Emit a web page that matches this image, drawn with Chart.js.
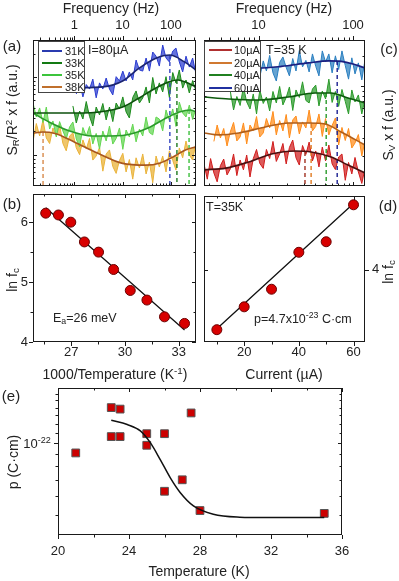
<!DOCTYPE html>
<html>
<head>
<meta charset="utf-8">
<script src="https://cdn.jsdelivr.net/npm/chart.js"></script>
<style>
  body { margin: 0; width: 399px; height: 581px; position: relative; overflow: hidden; background: #fff;
         font-family: "Liberation Sans", Arial, sans-serif; color: #222; }
  canvas { position: absolute; }
  .lb { position: absolute; white-space: nowrap; line-height: 1; transform: translate(-50%, -50%); font-size: 14px; }
  .rot { transform: translate(-50%, -50%) rotate(-90deg); }
  .ann { position: absolute; white-space: nowrap; line-height: 1; transform: translateY(-50%); font-size: 12.5px; }
  .pl { font-size: 15px; }
  sub, sup { font-size: 70%; line-height: 0; }
  sub { vertical-align: -0.25em; }
  sup { vertical-align: 0.55em; }
  .legend { position: absolute; background: #fff; border: 1px solid #444; box-sizing: border-box; }
  .legend .row { position: absolute; left: 0; height: 0; }
  .legend i { position: absolute; height: 2px; top: -1px; }
  .legend span { position: absolute; top: 0; transform: translateY(-50%); font-size: 11px; line-height: 1; white-space: nowrap; }
</style>
</head>
<body>
<canvas id="pa"></canvas>
<canvas id="pb"></canvas>
<canvas id="pc"></canvas>
<canvas id="pd"></canvas>
<canvas id="pe"></canvas>

<div class="lb" style="left:111px;top:8px">Frequency (Hz)</div>
<div class="lb" style="left:284px;top:8px">Frequency (Hz)</div>
<div class="lb pl" style="left:12px;top:45px">(a)</div>
<div class="lb pl" style="left:12px;top:203px">(b)</div>
<div class="lb pl" style="left:389px;top:48px">(c)</div>
<div class="lb pl" style="left:388px;top:205px">(d)</div>
<div class="lb pl" style="left:11px;top:395px">(e)</div>
<div class="lb rot" style="left:12px;top:110px">S<sub>R</sub>/R<sup>2</sup> x f (a.u.)</div>
<div class="lb rot" style="left:388px;top:125px">S<sub>V</sub> x f (a.u.)</div>
<div class="lb rot" style="left:12px;top:280px">ln f<sub>c</sub></div>
<div class="lb rot" style="left:388px;top:272px">ln f<sub>c</sub></div>
<div class="lb rot" style="left:13px;top:462px">p (C·cm)</div>
<div class="lb" style="left:115px;top:374px">1000/Temperature (K<sup>-1</sup>)</div>
<div class="lb" style="left:284px;top:374px">Current (µA)</div>
<div class="lb" style="left:199px;top:571px">Temperature (K)</div>
<div class="lb" style="left:37px;top:443px;font-size:13px">10<sup>-22</sup></div>
<div class="ann" style="left:88px;top:50px">I=80µA</div>
<div class="ann" style="left:266px;top:50px">T=35 K</div>
<div class="ann" style="left:53px;top:318px">E<sub>a</sub>=26 meV</div>
<div class="ann" style="left:206px;top:207px">T=35K</div>
<div class="ann" style="left:254px;top:319px">p=4.7x10<sup>-23</sup> C·cm</div>

<div class="legend" style="left:38px;top:41px;width:47px;height:52px">
  <div class="row" style="top:9px"><i style="left:3px;width:20px;background:#2a3bb0"></i><span style="left:26px">31K</span></div>
  <div class="row" style="top:21px"><i style="left:3px;width:20px;background:#137a13"></i><span style="left:26px">33K</span></div>
  <div class="row" style="top:33px"><i style="left:3px;width:20px;background:#3cc43c"></i><span style="left:26px">35K</span></div>
  <div class="row" style="top:45px"><i style="left:3px;width:20px;background:#c0702c"></i><span style="left:26px">38K</span></div>
</div>
<div class="legend" style="left:204px;top:41px;width:57px;height:51px">
  <div class="row" style="top:8px"><i style="left:4px;width:23px;background:#b03030"></i><span style="left:29px">10µA</span></div>
  <div class="row" style="top:21px"><i style="left:4px;width:23px;background:#d07830"></i><span style="left:29px">20µA</span></div>
  <div class="row" style="top:33px"><i style="left:4px;width:23px;background:#208020"></i><span style="left:29px">40µA</span></div>
  <div class="row" style="top:46px"><i style="left:4px;width:23px;background:#2030a0"></i><span style="left:29px">60µA</span></div>
</div>

<script>
// ---- panel (a): S_R/R^2 x f vs frequency, I = 80 uA ----
const freqA = [0.140,0.164,0.192,0.225,0.264,0.309,0.362,0.425,0.497,0.582,0.682,0.800,0.937,1.10,1.29,1.51,1.77,2.07,2.42,2.84,
  3.33,3.90,4.57,5.35,6.27,7.35,8.61,10.1,11.8,13.8,16.2,19.0,22.3,26.1,30.6,35.8,42.0,49.2,57.5,67.5,79.1,92.7,109,127,149,175,205,240,281,329];
const noise31 = [60.5,84,55.5,80,70,94,54,84,70,97,70,58.8,101,89,119,89,116,91.5,165,123,119,175,119,209,185,138,257,175,156,215,235,156,116,185,134,175,110];
const noise33 = [42.5,25.7,36.6,28.9,48.5,31.2,23.5,41.2,32.6,45.7,28.1,41.2,26.8,46.4,38.9,55.5,35.6,29.8,54.6,66.2,46.4,53.8,74.5,46.4,98.6,60.5,84,64.3,101,54.6,114,84,123,72,91.5,62.3,90,66.2];
const noise35 = [46.4,30.7,40.1,26.1,41.2,21.5,27.3,17.0,26.8,20.3,16.0,22.9,26.5,16.0,12.7,22.5,17.5,23.2,13.8,18.9,
  11.9,20.3,15.1,23.5,13.8,16.3,22.2,11.8,20.9,17.0,24.9,14.7,21.5,17.5,30.7,19.4,18.1,30.7,28.9,20.3,37.8,27.7,38.9,23.2,47.7,34.5,30.7,43.7,28.5,40.1];
const noise38 = [14.9,25.3,17.5,28.1,16.5,14.0,22.2,17.5,24.2,14.0,11.3,17.5,19.2,12.3,10.1,15.6,11.9,16.3,8.6,9.7,
  12.5,6.2,10.3,11.6,7.1,5.8,8.5,10.5,6.05,8.75,4.9,9.2,6.8,10.3,5.7,8.1,4.4,9.7,7.0,9.7,6.05,11.3,8.5,6.4,12.3,9.2,15.1,10,8.6,14.3];
const start31 = 13, start33 = 12;
const fit31F = [1.1, 3.9, 10, 22, 49, 95, 190, 330];
const fit31 = [72.5, 74.6, 89, 130, 174, 191, 156, 123];
const fit33F = [0.14, 1.1, 3.9, 10, 22, 49, 95, 140, 200, 330];
const fit33 = [34.5, 34.5, 36.1, 41.2, 53.8, 72.3, 87.5, 91.5, 86.3, 74.5];
const fit35F = [0.14, 0.3, 0.8, 2.4, 10, 30, 80, 150, 250, 330];
const fit35 = [34.5, 26.5, 20.3, 17.5, 17.8, 21.5, 29.8, 35.6, 37.8, 35.6];
const fit38F = [0.14, 0.22, 0.4, 1, 3, 10, 30, 60, 120, 200, 330];
const fit38 = [18.9, 19.7, 18.9, 14.7, 10.6, 7.8, 7.4, 7.9, 9.7, 11.6, 12.7];
const cornerA = [0.226, 95, 133, 237];      // 38K, 31K, 33K, 35K
const cornerATop = [19.7, 191, 91.5, 37.8];

// ---- panel (c): S_V x f vs frequency, T = 35 K ----
const freqC = [2.64,2.86,3.10,3.36,3.64,3.94,4.27,4.63,5.01,5.43,5.88,6.37,6.91,7.48,8.11,8.78,9.51,10.3,11.2,12.1,
  13.1,14.2,15.4,16.7,18.1,19.6,21.2,23.0,24.9,27.0,29.2,31.7,34.3,37.2,40.3,43.6,47.3,51.2,55.5,60.1,65.1,70.5,76.4,82.8,89.7,97.2,105,114,124,134];
const noise60 = [12.3,17.8,14.1,20.2,13.5,11.2,17.2,19.5,15.3,12.6,18.8,14.1,22.6,15.5,18.0,13.8,20.9,15.7,12.6,22.4,17.4,20.9,13.5,20.0,14.6,22.4,16.0,11.7,19.1,13.2,17.0,11.5,18.2];
const noise40 = [8.91,5.75,7.85,6.38,9.77,6.92,5.89,8.32,5.25,9.12,6.68,7.76,5.62,8.81,6.76,9.89,6.46,7.67,9.77,5.69,
  9.12,7.67,11.0,7.16,6.76,9.33,10.2,6.31,8.91,7.41,11.7,6.84,8.81,6.24,9.23,7.0,5.25,9.12,6.92,8.13,5.25,7.41];
const noise20 = [2.79,4.07,3.02,3.76,2.51,3.47,4.32,2.82,3.09,4.27,2.63,4.07,3.59,4.95,3.09,3.39,4.73,3.80,5.56,3.24,
  4.52,3.55,5.19,3.02,4.57,5.01,3.31,4.37,3.80,5.75,3.55,3.94,5.25,3.13,4.73,3.24,4.03,4.79,2.57,3.85,2.85,3.76,2.40,2.69,3.27,2.0,2.82];
const noise10 = [1.66,1.17,1.88,1.35,1.10,1.60,1.86,1.29,1.48,2.09,1.27,1.82,1.45,2.04,1.23,1.88,2.32,1.68,1.50,2.32,
  1.88,2.79,1.76,2.09,2.66,1.66,2.43,2.88,1.91,1.62,2.54,2.07,2.75,1.78,2.24,1.55,2.45,1.78,2.57,1.66,1.46,1.95,2.09,1.14,1.72,1.32,1.93,1.38,1.06,1.51];
const start60 = 17, start40 = 8, start20 = 3;
const fit10F = [2.64, 4.5, 7.85, 13.7, 24.5, 36.1, 58.6, 88.5, 134];
const fit10 = [1.45, 1.51, 1.74, 2.09, 2.24, 2.19, 1.95, 1.62, 1.35];
const fit20F = [2.64, 3.79, 6.16, 11.8, 20.7, 33.6, 50.7, 74.8, 134];
const fit20 = [3.39, 3.24, 3.39, 3.89, 4.27, 4.27, 4.17, 3.47, 2.57];
const fit40F = [2.64, 4.83, 10, 20.7, 39.8, 58.6, 88.5, 134];
const fit40 = [7.76, 7.41, 7.24, 7.76, 8.51, 8.51, 7.59, 6.76];
const fit60F = [2.64, 5.2, 10, 17.5, 33.6, 55.9, 74.8, 100, 134];
const fit60 = [17.4, 15.8, 15.1, 15.7, 17.0, 17.8, 17.6, 16.6, 15.1];
const cornerC = [31, 36, 52, 68];           // 10, 20, 40, 60 uA
const cornerCTop = [2.19, 4.17, 8.51, 17.8];

// ---- panel (b): ln fc vs 1000/T ----
const invT = [25.58, 26.29, 26.98, 27.74, 28.53, 29.37, 30.30, 31.23, 32.21, 33.33];
const lnFcT = [6.15, 6.12, 6.00, 5.67, 5.50, 5.21, 4.86, 4.70, 4.42, 4.31];
const fitBX = [25.58, 33.33];
const fitBY = [6.24, 4.20];

// ---- panel (d): ln fc vs current ----
const current = [10, 20, 30, 40, 50, 60];
const lnFcI = [3.66, 3.79, 3.89, 4.10, 4.16, 4.37];
const fitDX = [9.1, 60];
const fitDY = [3.653, 4.377];

// ---- panel (e): dipole p vs temperature ----
const tempE = [21, 23, 23.5, 23, 23.5, 25, 25, 26, 26, 27, 27.5, 28, 35];
const pE = [9.06e-23, 1.40e-22, 1.38e-22, 1.06e-22, 1.06e-22, 1.09e-22, 9.75e-23, 1.09e-22, 6.27e-23, 7.0e-23, 1.33e-22, 5.21e-23, 5.07e-23];
const fitET = [23, 23.9, 24.64, 25.2, 25.76, 26.32, 26.88, 27.63, 28.75, 30.24, 31.74, 35];
const fitEP = [1.24e-22, 1.19e-22, 1.12e-22, 1.0e-22, 8.5e-23, 7.15e-23, 6.2e-23, 5.45e-23, 5.03e-23, 4.89e-23, 4.87e-23, 4.87e-23];

// tick labels
const ticksFreqA = [1, 10, 100];
const ticksFreqC = [10, 100];
const ticksInvT = [27, 30, 33];
const ticksLnB = [4, 5, 6];
const ticksCurrent = [20, 40, 60];
const ticksLnD = [4];
const ticksTemp = [20, 24, 28, 32, 36];

Chart.defaults.font.family = '"Liberation Sans", Arial, sans-serif';
Chart.defaults.font.size = 13;
Chart.defaults.color = '#222';

const M = 30;

// box + Origin-like tick marks on all four sides
const frameTicks = {
  id: 'frameTicks',
  afterDatasetsDraw(chart, args, o) {
    const {ctx, chartArea: a} = chart;
    const xs = chart.scales.x, ys = chart.scales.y;
    const out = o.out || {};
    ctx.save();
    ctx.strokeStyle = '#1a1a1a';
    ctx.lineWidth = 1;
    const mark = (x1, y1, x2, y2) => { ctx.beginPath(); ctx.moveTo(x1, y1); ctx.lineTo(x2, y2); ctx.stroke(); };
    [[o.xMajor || [], 4], [o.xMinor || [], 2.5]].forEach(([list, len]) => list.forEach(v => {
      const p = Math.round(xs.getPixelForValue(v)) + 0.5;
      mark(p, a.bottom, p, a.bottom + (out.bottom ? len : -len));
      mark(p, a.top, p, a.top + (out.top ? -len : len));
    }));
    [[o.yMajor || [], 4], [o.yMinor || [], 2.5]].forEach(([list, len]) => list.forEach(v => {
      const p = Math.round(ys.getPixelForValue(v)) + 0.5;
      mark(a.left, p, a.left + (out.left ? -len : len), p);
      mark(a.right, p, a.right + (out.right ? len : -len), p);
    }));
    ctx.strokeRect(Math.round(a.left) + 0.5, Math.round(a.top) + 0.5, Math.round(a.width) - 1, Math.round(a.height) - 1);
    ctx.restore();
  }
};

function minorLog(lo, hi) {
  const res = [];
  for (let e = Math.floor(Math.log10(lo)); e <= Math.ceil(Math.log10(hi)); e++) {
    for (let m = 2; m <= 9; m++) {
      const v = m * Math.pow(10, e);
      if (v > lo && v < hi) res.push(v);
    }
  }
  return res;
}

// every axis box is exactly M wide/high, so the plot area lands on the given pixels
function ax(type, pos, min, max, labels, pad) {
  const horiz = pos === 'top' || pos === 'bottom';
  const s = {
    type, position: pos, min, max,
    grid: {display: false, drawTicks: false},
    border: {display: false},
    ticks: {display: labels.length > 0, autoSkip: false, maxRotation: 0, padding: pad || 4,
      callback: v => labels.includes(v) ? String(v) : ''},
    afterFit: sc => { if (horiz) sc.height = M; else sc.width = M; }
  };
  if (labels.length) s.afterBuildTicks = sc => { sc.ticks = labels.map(v => ({value: v})); };
  return s;
}

const pts = (xs, ys, start = 0) => ys.map((y, i) => ({x: xs[start + i], y}));
// noisy spectrum: jagged line, shaded against its fit so it reads as a dense band
const trace = (data, color, band, fitIdx) => ({data, borderColor: color, borderWidth: 1, pointRadius: 0, tension: 0,
  fill: {target: fitIdx}, backgroundColor: band});
const fit = (xs, ys, color, w) => ({data: pts(xs, ys), borderColor: color, borderWidth: w || 1.6, pointRadius: 0,
  fill: false, cubicInterpolationMode: 'monotone'});
const dash = (x, top, bottom, color) => ({data: [{x, y: top}, {x, y: bottom}], borderColor: color, borderWidth: 1.4,
  borderDash: [4, 3], pointRadius: 0, fill: false});
const dots = (xs, ys, style) => Object.assign({data: pts(xs, ys), showLine: false, pointRadius: 5, fill: false,
  pointBackgroundColor: '#d80000', pointBorderColor: '#6a0000', pointBorderWidth: 1}, style || {});

function panel(id, box, scales, datasets, ticks) {
  const used = Object.values(scales).map(s => s.position);
  const padding = {};
  ['left', 'right', 'top', 'bottom'].forEach(p => { padding[p] = used.includes(p) ? 0 : M; });
  const c = document.getElementById(id);
  c.width = box.w + 2 * M;
  c.height = box.h + 2 * M;
  c.style.left = (box.x - M) + 'px';
  c.style.top = (box.y - M) + 'px';
  return new Chart(c, {
    type: 'line',
    data: {datasets},
    options: {
      responsive: false, animation: false, events: [],
      layout: {padding},
      plugins: {legend: {display: false}, tooltip: {enabled: false}, frameTicks: ticks},
      scales
    },
    plugins: [frameTicks]
  });
}

// (a)
const yA = [4, 298];
panel('pa', {x: 33, y: 40, w: 163, h: 146}, {
  x: ax('logarithmic', 'top', 0.14, 330, ticksFreqA, 7),
  y: ax('logarithmic', 'left', yA[0], yA[1], [])
}, [
  fit(fit31F, fit31, '#1a2470'),
  fit(fit33F, fit33, '#0c500c'),
  fit(fit35F, fit35, '#2a9a2a'),
  fit(fit38F, fit38, '#a8561e'),
  dash(cornerA[0], cornerATop[0], yA[0], '#d8894a'),
  dash(cornerA[1], cornerATop[1], yA[0], '#3545c0'),
  dash(cornerA[2], cornerATop[2], yA[0], '#1f7a1f'),
  dash(cornerA[3], cornerATop[3], yA[0], '#3cbf3c'),
  trace(pts(freqA, noise31, start31), '#2a3bd0', 'rgba(42,59,208,0.72)', 0),
  trace(pts(freqA, noise33, start33), '#1b8a1b', 'rgba(27,138,27,0.72)', 1),
  trace(pts(freqA, noise35), '#62d650', 'rgba(98,214,80,0.72)', 2),
  trace(pts(freqA, noise38), '#eab33a', 'rgba(234,179,58,0.75)', 3)
], {xMajor: ticksFreqA, xMinor: minorLog(0.14, 330), yMajor: [10, 100], yMinor: minorLog(yA[0], yA[1]), out: {top: true}});

// (c)
const yC = [1, 28.8];
panel('pc', {x: 204, y: 40, w: 161, h: 146}, {
  x: ax('logarithmic', 'top', 2.64, 134, ticksFreqC, 7),
  y: ax('logarithmic', 'left', yC[0], yC[1], [])
}, [
  fit(fit10F, fit10, '#4a0f0f'),
  fit(fit20F, fit20, '#b05e1a'),
  fit(fit40F, fit40, '#0d5a0d'),
  fit(fit60F, fit60, '#1a1f80'),
  dash(cornerC[0], cornerCTop[0], yC[0], '#a03020'),
  dash(cornerC[1], cornerCTop[1], yC[0], '#e07a20'),
  dash(cornerC[2], cornerCTop[2], yC[0], '#2a9a2a'),
  dash(cornerC[3], cornerCTop[3], yC[0], '#1a1f90'),
  trace(pts(freqC, noise10), '#d01c1c', 'rgba(208,28,28,0.72)', 0),
  trace(pts(freqC, noise20, start20), '#ff8c1a', 'rgba(255,140,26,0.72)', 1),
  trace(pts(freqC, noise40, start40), '#2a9a2a', 'rgba(42,154,42,0.72)', 2),
  trace(pts(freqC, noise60, start60), '#2a7fc0', 'rgba(42,127,192,0.72)', 3)
], {xMajor: ticksFreqC, xMinor: minorLog(2.64, 134), yMajor: [10], yMinor: minorLog(yC[0], yC[1]), out: {top: true}});

// (b)
panel('pb', {x: 33, y: 194, w: 163, h: 148}, {
  x: ax('linear', 'bottom', 24.87, 33.97, ticksInvT, 3),
  y: ax('linear', 'left', 4, 6.47, ticksLnB, 5)
}, [
  dots(invT, lnFcT),
  fit(fitBX, fitBY, '#111', 1.3)
], {xMajor: ticksInvT, xMinor: [25.5, 28.5, 31.5], yMajor: ticksLnB, yMinor: [4.5, 5.5], out: {left: true, bottom: true}});

// (d)
panel('pd', {x: 204, y: 196, w: 161, h: 146}, {
  x: ax('linear', 'bottom', 5.3, 64.2, ticksCurrent, 3),
  y: ax('linear', 'right', 3.59, 4.42, ticksLnD, 7)
}, [
  dots(current, lnFcI),
  fit(fitDX, fitDY, '#111', 1.3)
], {xMajor: ticksCurrent, xMinor: [10, 30, 50], yMajor: ticksLnD, yMinor: [], out: {right: true, bottom: true}});

// (e)
panel('pe', {x: 58, y: 388, w: 284, h: 147}, {
  x: ax('linear', 'bottom', 20, 36, ticksTemp, 9),
  y: ax('logarithmic', 'left', 4.12e-23, 1.69e-22, [])
}, [
  fit(fitET, fitEP, '#111', 1.5),
  dots(tempE, pE, {pointStyle: 'rect', pointRadius: 5.5, pointBackgroundColor: '#cc0000', pointBorderColor: '#555'})
], {xMajor: ticksTemp, xMinor: [22, 26, 30, 34], yMajor: [1e-22],
    yMinor: [5e-23, 6e-23, 7e-23, 8e-23, 9e-23, 1.1e-22, 1.2e-22, 1.3e-22, 1.4e-22, 1.5e-22, 1.6e-22], out: {left: true, bottom: true}});
</script>
</body>
</html>
